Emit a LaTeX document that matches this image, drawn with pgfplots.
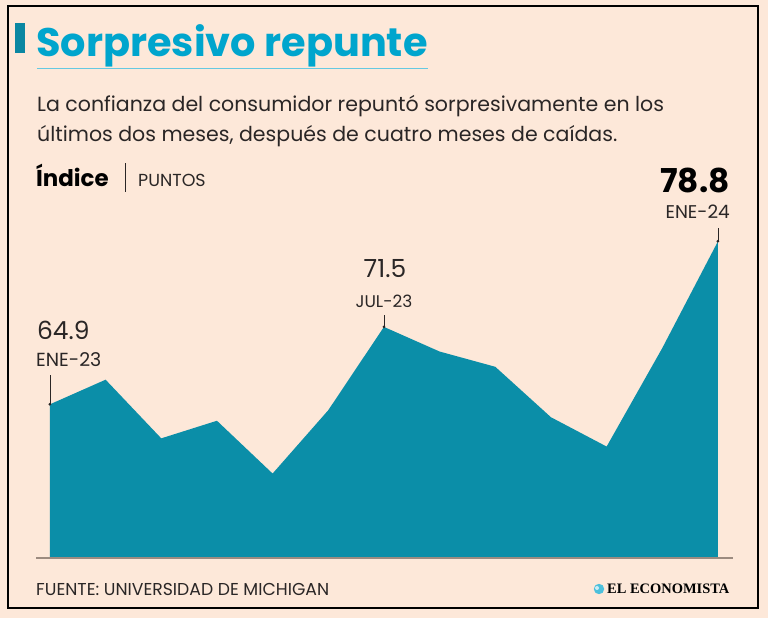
\documentclass[border=0pt]{standalone}
\usepackage{pgfplots}
\pgfplotsset{compat=1.18}
\usepackage{fontspec}
\setmainfont{Poppins}
\newfontfamily\logofont{Liberation Serif}
\definecolor{bg}{HTML}{FDE8D9}
\definecolor{area}{HTML}{0B8EA8}
\definecolor{titulo}{HTML}{00A5CD}
\definecolor{barra}{HTML}{0A87A2}
\definecolor{base}{HTML}{9C8B80}
\definecolor{texto}{HTML}{2A2626}
\begin{document}
\begin{tikzpicture}
% fondo y marco
\fill[bg] (0bp,0bp) rectangle (768bp,618bp);
\draw[line width=2.2bp,black] (8bp,10bp) rectangle (758bp,612bp);
% titulo
\fill[barra] (15bp,565bp) rectangle (25bp,595bp);
\node[anchor=base west,inner sep=0,text=titulo,font=\fontsize{40}{44}\selectfont\bfseries] at (36bp,561bp) {Sorpresivo repunte};
\draw[titulo!60,line width=0.8bp] (37bp,550bp) -- (428bp,550bp);
\node[anchor=base west,inner sep=0,text=texto,font=\fontsize{20.6}{24}\selectfont] at (37bp,506bp) {La confianza del consumidor repuntó sorpresivamente en los};
\node[anchor=base west,inner sep=0,text=texto,font=\fontsize{20.6}{24}\selectfont] at (37bp,476bp) {últimos dos meses, después de cuatro meses de caídas.};
\node[anchor=base west,inner sep=0,text=black,font=\fontsize{23}{26}\selectfont\bfseries] at (36bp,431bp) {Índice};
\draw[texto,line width=0.9bp] (125bp,426bp) -- (125bp,455bp);
\node[anchor=base west,inner sep=0,text=texto,font=\fontsize{17.5}{20}\selectfont] at (138bp,431bp) {PUNTOS};

\begin{axis}[
    at={(36bp,60bp)}, anchor=south west,
    scale only axis, width=697bp, height=330.8bp,
    xmin=-0.25, xmax=12.27, ymin=51.8, ymax=80,
    hide axis, clip=false,
]
\addplot[fill=area, draw=none] coordinates {
    (0,64.9) (1,67.0) (2,62.0) (3,63.5) (4,59.0) (5,64.4) (6,71.5)
    (7,69.4) (8,68.1) (9,63.8) (10,61.3) (11,69.7) (12,78.8)
} -- (axis cs:12,51.8) -- (axis cs:0,51.8) -- cycle;
% marcadores
\draw[texto,line width=0.6bp] (axis cs:0,64.9) -- (axis cs:0,67.37);
\fill[texto] (axis cs:0,64.9) circle (1.5bp);
\draw[texto,line width=0.6bp] (axis cs:6,71.5) -- (axis cs:6,72.5);
\fill[texto] (axis cs:6,71.5) circle (1.5bp);
\draw[texto,line width=0.6bp] (axis cs:12,78.8) -- (axis cs:12,79.9);
\fill[texto] (axis cs:12,78.8) circle (1.5bp);
\node[anchor=base west,inner sep=0,text=texto,font=\fontsize{25}{28}\selectfont] at ([yshift=65bp,xshift=-13bp]axis cs:0,64.9) {64.9};
\node[anchor=base west,inner sep=0,text=texto,font=\fontsize{19}{22}\selectfont] at ([yshift=38bp,xshift=-14bp]axis cs:0,64.9) {ENE-23};
\node[anchor=base,inner sep=0,text=texto,font=\fontsize{25}{28}\selectfont] at ([yshift=49bp,xshift=1bp]axis cs:6,71.5) {71.5};
\node[anchor=base,inner sep=0,text=texto,font=\fontsize{17}{20}\selectfont] at ([yshift=19bp,xshift=0bp]axis cs:6,71.5) {JUL-23};
\node[anchor=base east,inner sep=0,text=black,font=\fontsize{33}{36}\selectfont\bfseries] at ([yshift=49bp,xshift=12bp]axis cs:12,78.8) {78.8};
\node[anchor=base east,inner sep=0,text=texto,font=\fontsize{18.5}{21}\selectfont] at ([yshift=23bp,xshift=12bp]axis cs:12,78.8) {ENE-24};
\end{axis}
\draw[base,line width=1.3bp] (36bp,60bp) -- (733bp,60bp);
% pie
\node[anchor=base west,inner sep=0,text=texto,font=\fontsize{17.3}{20}\selectfont] at (36bp,23bp) {FUENTE: UNIVERSIDAD DE MICHIGAN};
\fill[titulo!70] (599bp,29bp) circle (5.2bp);
\fill[white!80!titulo] (597bp,30bp) circle (2bp);
\node[anchor=base west,inner sep=0,text=black,font=\fontsize{14.5}{16}\selectfont\logofont\bfseries] at (607bp,25bp) {EL ECONOMISTA};
\end{tikzpicture}
\end{document}
